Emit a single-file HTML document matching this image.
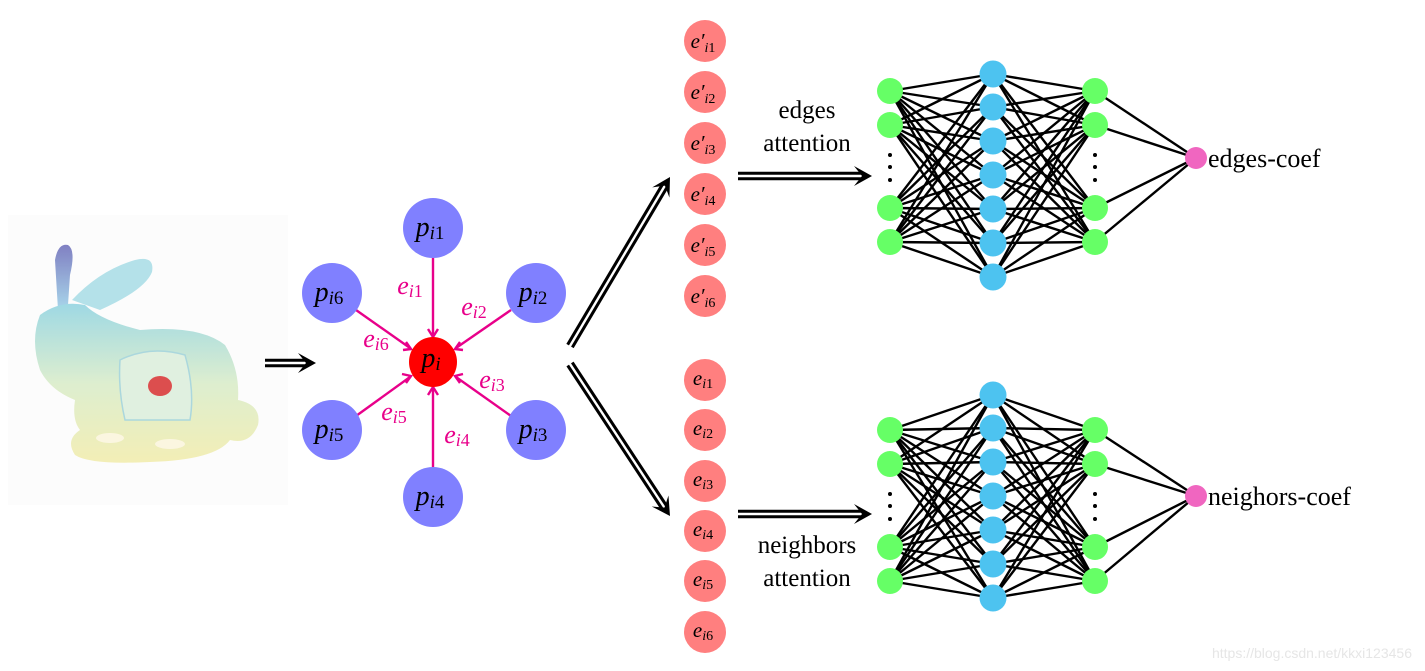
<!DOCTYPE html>
<html><head><meta charset="utf-8"><style>
html,body{margin:0;padding:0;background:#fff;width:1425px;height:671px;overflow:hidden}
svg{display:block}
.m{font-family:"Liberation Serif",serif;font-style:italic}
.s{font-family:"Liberation Serif",serif;font-style:normal}
</style></head><body>
<svg id="s" width="1425" height="671" viewBox="0 0 1425 671" xmlns="http://www.w3.org/2000/svg">
<defs>
<linearGradient id="bg1" x1="0" y1="0" x2="0" y2="1">
<stop offset="0" stop-color="#8fd3e0"/><stop offset="0.5" stop-color="#d8ecc8"/><stop offset="1" stop-color="#f2ecaa"/></linearGradient>
<linearGradient id="ear" x1="0" y1="0" x2="0" y2="1">
<stop offset="0" stop-color="#6a6ab8"/><stop offset="1" stop-color="#9ad0e8"/></linearGradient>
</defs>
<rect x="8" y="215" width="280" height="290" fill="#fcfcfc"/>
<g opacity="0.85">
<path d="M55,260 Q58,243 68,245 Q76,250 70,275 L68,305 L58,310 Z" fill="url(#ear)"/>
<path d="M72,300 Q100,270 135,260 Q155,255 152,272 Q145,290 100,310 Z" fill="#a8dde6"/>
<path d="M40,315 Q60,300 85,305 Q100,320 140,330 Q200,325 225,345 Q240,370 238,400 Q262,405 258,425 Q250,445 230,440 Q215,460 150,462 Q90,465 75,455 Q65,440 80,430 Q72,420 75,400 Q50,390 40,370 Q30,340 40,315 Z" fill="url(#bg1)"/>
<path d="M120,360 Q150,345 185,355 Q195,390 190,420 L125,420 Q118,390 120,360 Z" fill="#dcefdc" stroke="#9dd1d8" stroke-width="1.5"/>
<ellipse cx="160" cy="386" rx="12" ry="10" fill="#d73030"/>
<ellipse cx="110" cy="438" rx="14" ry="5" fill="#fbf6dc"/>
<ellipse cx="170" cy="444" rx="15" ry="5" fill="#fbf6dc"/>
</g>
<g id="net"></g>
<g id="arrows"></g>
<g stroke="#e8008a" stroke-width="2.4" fill="none">
<line x1="433" y1="258" x2="433" y2="335"/>
<line x1="511" y1="310" x2="456" y2="348"/>
<line x1="511" y1="416" x2="456" y2="377"/>
<line x1="433" y1="467" x2="433" y2="389"/>
<line x1="356" y1="416" x2="410" y2="377"/>
<line x1="356" y1="310" x2="410" y2="348"/>
<path d="M428,329 L433,337 L438,329"/>
<path d="M460,342 L455,349 L463,350"/>
<path d="M463,374 L455,376 L460,383"/>
<path d="M428,395 L433,387 L438,395"/>
<path d="M402,374 L411,376 L406,383"/>
<path d="M406,342 L411,349 L403,350"/>
</g>
<g fill="#8080ff">
<circle cx="433" cy="228" r="30"/><circle cx="536" cy="293" r="30"/><circle cx="536" cy="430" r="30"/>
<circle cx="433" cy="497" r="30"/><circle cx="332" cy="430" r="30"/><circle cx="332" cy="293" r="30"/>
</g>
<ellipse cx="433" cy="362" rx="24" ry="25" fill="#ff0000"/>
<g class="m" font-size="28" fill="#000" text-anchor="middle">
<text x="430" y="236">p<tspan font-size="19" dy="3">i</tspan><tspan class="s" font-size="19">1</tspan></text>
<text x="533" y="301">p<tspan font-size="19" dy="3">i</tspan><tspan class="s" font-size="19">2</tspan></text>
<text x="533" y="438">p<tspan font-size="19" dy="3">i</tspan><tspan class="s" font-size="19">3</tspan></text>
<text x="430" y="505">p<tspan font-size="19" dy="3">i</tspan><tspan class="s" font-size="19">4</tspan></text>
<text x="329" y="438">p<tspan font-size="19" dy="3">i</tspan><tspan class="s" font-size="19">5</tspan></text>
<text x="329" y="301">p<tspan font-size="19" dy="3">i</tspan><tspan class="s" font-size="19">6</tspan></text>
<text x="431" y="367">p<tspan font-size="19" dy="3">i</tspan></text>
</g>
<g class="m" font-size="26" fill="#e8008a" text-anchor="middle">
<text x="410" y="294">e<tspan font-size="18" dy="3">i</tspan><tspan class="s" font-size="18">1</tspan></text>
<text x="474" y="315">e<tspan font-size="18" dy="3">i</tspan><tspan class="s" font-size="18">2</tspan></text>
<text x="492" y="388">e<tspan font-size="18" dy="3">i</tspan><tspan class="s" font-size="18">3</tspan></text>
<text x="457" y="443">e<tspan font-size="18" dy="3">i</tspan><tspan class="s" font-size="18">4</tspan></text>
<text x="394" y="420">e<tspan font-size="18" dy="3">i</tspan><tspan class="s" font-size="18">5</tspan></text>
<text x="376" y="347">e<tspan font-size="18" dy="3">i</tspan><tspan class="s" font-size="18">6</tspan></text>
</g>
<g fill="#ff7f7f">
<circle cx="705" cy="41" r="21"/><circle cx="705" cy="92" r="21"/><circle cx="705" cy="143" r="21"/>
<circle cx="705" cy="194" r="21"/><circle cx="705" cy="245" r="21"/><circle cx="705" cy="296" r="21"/>
<circle cx="705" cy="380" r="21"/><circle cx="705" cy="430" r="21"/><circle cx="705" cy="481" r="21"/>
<circle cx="705" cy="531" r="21"/><circle cx="705" cy="581" r="21"/><circle cx="705" cy="632" r="21"/>
</g>
<g class="m" font-size="21" fill="#000" text-anchor="middle">
<text x="703" y="48">e′<tspan font-size="14" dy="4">i</tspan><tspan class="s" font-size="14">1</tspan></text>
<text x="703" y="99">e′<tspan font-size="14" dy="4">i</tspan><tspan class="s" font-size="14">2</tspan></text>
<text x="703" y="150">e′<tspan font-size="14" dy="4">i</tspan><tspan class="s" font-size="14">3</tspan></text>
<text x="703" y="201">e′<tspan font-size="14" dy="4">i</tspan><tspan class="s" font-size="14">4</tspan></text>
<text x="703" y="252">e′<tspan font-size="14" dy="4">i</tspan><tspan class="s" font-size="14">5</tspan></text>
<text x="703" y="303">e′<tspan font-size="14" dy="4">i</tspan><tspan class="s" font-size="14">6</tspan></text>
<text x="703" y="385">e<tspan font-size="14" dy="3">i</tspan><tspan class="s" font-size="14">1</tspan></text>
<text x="703" y="435">e<tspan font-size="14" dy="3">i</tspan><tspan class="s" font-size="14">2</tspan></text>
<text x="703" y="486">e<tspan font-size="14" dy="3">i</tspan><tspan class="s" font-size="14">3</tspan></text>
<text x="703" y="536">e<tspan font-size="14" dy="3">i</tspan><tspan class="s" font-size="14">4</tspan></text>
<text x="703" y="586">e<tspan font-size="14" dy="3">i</tspan><tspan class="s" font-size="14">5</tspan></text>
<text x="703" y="637">e<tspan font-size="14" dy="3">i</tspan><tspan class="s" font-size="14">6</tspan></text>
</g>
<g class="s" font-size="25" fill="#000" text-anchor="middle">
<text x="807" y="118">edges</text>
<text x="807" y="151">attention</text>
<text x="807" y="553">neighbors</text>
<text x="807" y="586">attention</text>
</g>
<g class="s" font-size="26" fill="#000">
<text x="1208" y="167">edges-coef</text>
<text x="1208" y="505">neighors-coef</text>
</g>
<g fill="#000">
<circle cx="890" cy="155" r="2"/><circle cx="890" cy="167" r="2"/><circle cx="890" cy="180" r="2"/>
<circle cx="1095" cy="155" r="2"/><circle cx="1095" cy="167" r="2"/><circle cx="1095" cy="180" r="2"/>
<circle cx="890" cy="494" r="2"/><circle cx="890" cy="506" r="2"/><circle cx="890" cy="519" r="2"/>
<circle cx="1095" cy="494" r="2"/><circle cx="1095" cy="506" r="2"/><circle cx="1095" cy="519" r="2"/>
</g>
<text x="1412" y="658" text-anchor="end" font-family="Liberation Sans,sans-serif" font-size="14" fill="#e6e6e6">https://blog.csdn.net/kkxi123456</text>
</svg>
<script>
var NS="http://www.w3.org/2000/svg";
function el(p,t,a){var e=document.createElementNS(NS,t);for(var k in a)e.setAttribute(k,a[k]);p.appendChild(e);return e;}
var net=document.getElementById('net');
[[0,0,158],[339,321,496]].forEach(function(o){
 var g=[91,125,208,242].map(function(y){return y+o[0];});
 var b=[74,107,141,175,209,243,277].map(function(y){return y+o[1];});
 g.forEach(function(y1){b.forEach(function(y2){el(net,'line',{x1:890,y1:y1,x2:993,y2:y2,stroke:'#000','stroke-width':2.4});});});
 b.forEach(function(y1){g.forEach(function(y2){el(net,'line',{x1:993,y1:y1,x2:1095,y2:y2,stroke:'#000','stroke-width':2.4});});});
 g.forEach(function(y){el(net,'line',{x1:1095,y1:y,x2:1196,y2:o[2],stroke:'#000','stroke-width':2.4});});
 g.forEach(function(y){el(net,'circle',{cx:890,cy:y,r:13,fill:'#66ff66'});el(net,'circle',{cx:1095,cy:y,r:13,fill:'#66ff66'});});
 b.forEach(function(y){el(net,'circle',{cx:993,cy:y,r:13.5,fill:'#4dc3f0'});});
 el(net,'circle',{cx:1196,cy:o[2],r:11,fill:'#f066c0'});
});
var ar=document.getElementById('arrows');
function dbl(x1,y1,x2,y2){
 var dx=x2-x1,dy=y2-y1,L=Math.sqrt(dx*dx+dy*dy),ux=dx/L,uy=dy/L,nx=-uy,ny=ux;
 var ex=x2-ux*8,ey=y2-uy*8;
 el(ar,'line',{x1:x1,y1:y1,x2:ex,y2:ey,stroke:'#000','stroke-width':8.5});
 el(ar,'line',{x1:x1-ux*2,y1:y1-uy*2,x2:ex-ux*2,y2:ey-uy*2,stroke:'#fff','stroke-width':2.4});
 var bx=x2-ux*18,by=y2-uy*18;
 var p=[[x2,y2],[bx+nx*10,by+ny*10],[x2-ux*10,y2-uy*10],[bx-nx*10,by-ny*10]];
 el(ar,'polygon',{points:p.map(function(q){return q.join(',');}).join(' '),fill:'#000'});
}
dbl(265,363,316,363);
dbl(570,346,670,177);
dbl(570,364,670,516);
dbl(738,176,872,176);
dbl(738,514,872,514);
</script>
</body></html>
